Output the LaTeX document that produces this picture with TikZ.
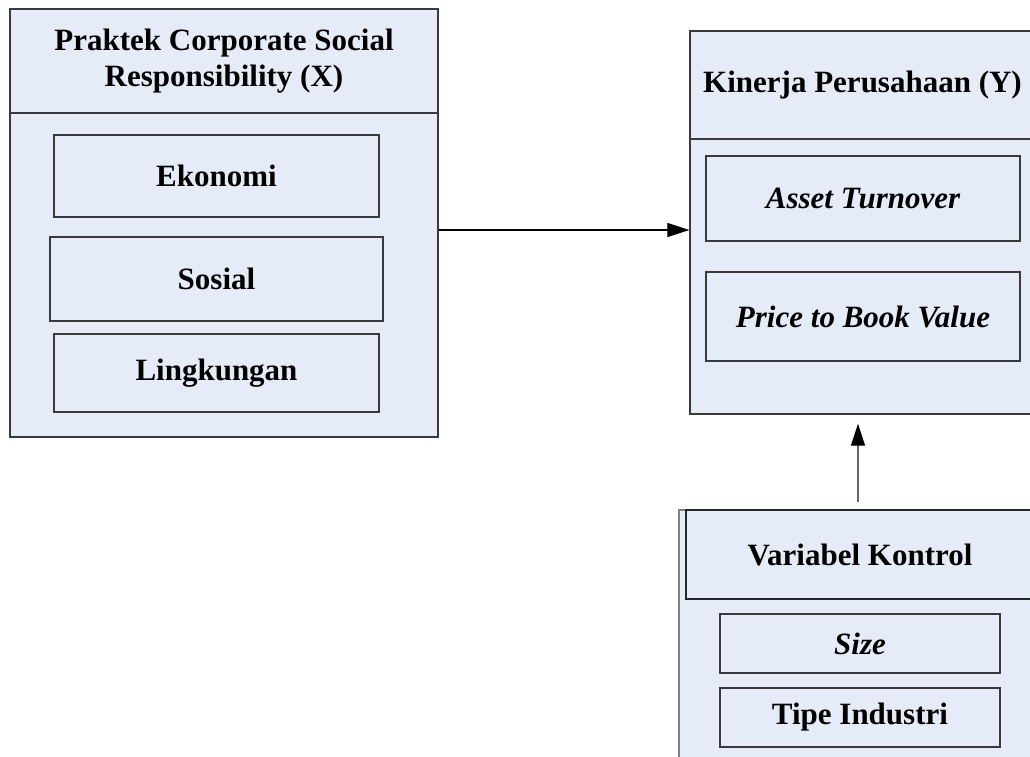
\documentclass[tikz,border=0pt]{standalone}
\usepackage{fontspec}
\setmainfont{Liberation Serif}
\usetikzlibrary{arrows.meta}
\definecolor{boxfill}{HTML}{E6ECF7}
\definecolor{boxline}{HTML}{3A3A3A}
\tikzset{
  panel/.style={draw=boxline, fill=boxfill, line width=1.3pt, inner sep=0pt, align=center},
  conn/.style={line width=1.2pt, -{Triangle[length=22pt,width=14pt,color=black,fill=black]}},
}
\begin{document}
\begin{tikzpicture}[x=1pt,y=-1pt, font=\fontsize{31}{36}\selectfont\bfseries]
\path[use as bounding box] (0,0) rectangle (1030,756);
\clip (0,0) rectangle (1030,756);
\fill[white] (0,0) rectangle (1030,756);

% Left panel X
\node[panel, minimum width=428pt, minimum height=428pt] (X) at (224,223) {};
\node[panel, minimum width=428pt, minimum height=104pt] (Xh) at (224,61) {Praktek Corporate Social\\Responsibility (X)};
\node[panel, minimum width=325pt, minimum height=82pt] (eko) at (216.5,176) {Ekonomi};
\node[panel, minimum width=333pt, minimum height=84pt] (sos) at (216.5,279) {Sosial};
\node[panel, minimum width=325pt, minimum height=78pt] (lin) at (216.5,373) {Lingkungan};

% Right panel Y
\node[panel, minimum width=345pt, minimum height=383pt] (Y) at (862.5,222.5) {};
\node[panel, minimum width=345pt, minimum height=108pt] (Yh) at (862.5,85) {Kinerja Perusahaan (Y)};
\node[panel, minimum width=314pt, minimum height=85pt] (at) at (863,198.5) {\itshape Asset Turnover};
\node[panel, minimum width=314pt, minimum height=89pt] (pbv) at (863,316.5) {\itshape Price to Book Value};
\coordinate (tk) at (0,123);
\draw[boxline, line width=1.6pt] (Y.west |- tk) -- (Y.west |- Yh.south);

% Bottom panel K
\node[panel, draw=gray, minimum width=362pt, minimum height=260pt] (K) at (860,640) {};
\node[panel, draw=black!85, minimum width=348pt, minimum height=89pt] (Kh) at (860,554.5) {Variabel Kontrol};
\node[panel, minimum width=280pt, minimum height=59pt] (sz) at (860,643.5) {\itshape Size};
\node[panel, minimum width=280pt, minimum height=59pt] (ti) at (860,717.5) {Tipe Industri};

% connectors
\coordinate (a) at (0,230);
\coordinate (b) at (858,0);
\draw[conn] (X.east |- a) -- (Y.west |- a);
\draw[conn, draw=gray!80!black, shorten <=7pt, shorten >=9pt] (b |- K.north) -- (b |- Y.south);
\end{tikzpicture}
\end{document}
